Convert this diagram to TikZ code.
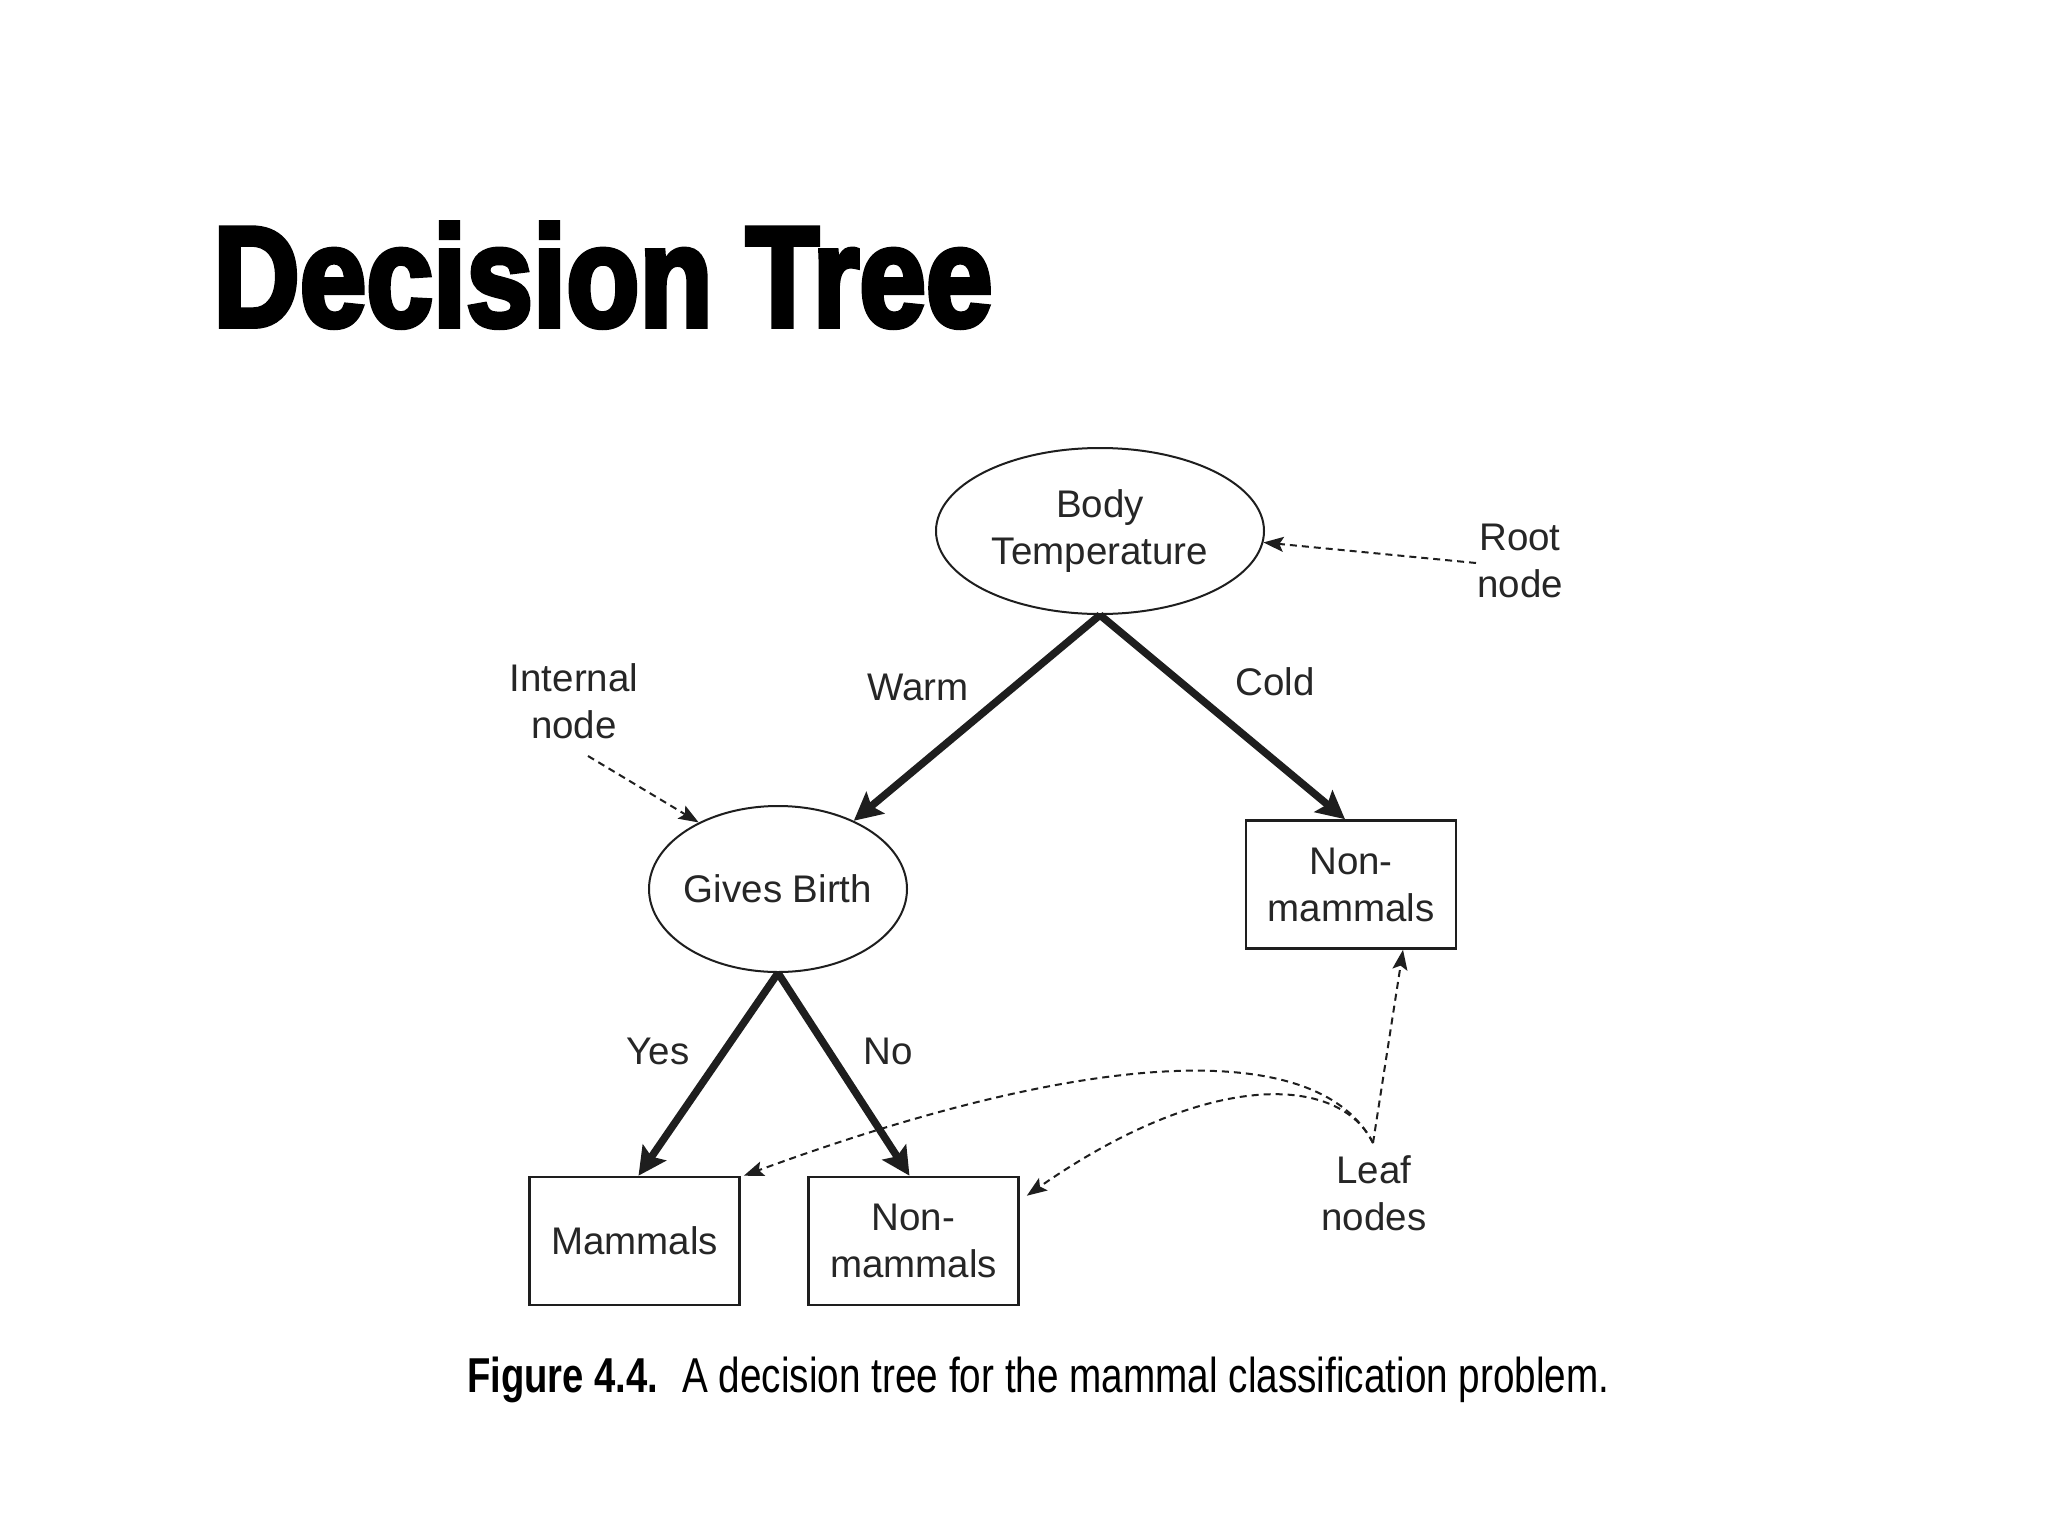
\documentclass[tikz,border=0pt]{standalone}
\usepackage{fontspec}
\setmainfont{Liberation Sans}
\newfontfamily\capfont[FakeStretch=0.79]{Liberation Sans}
\newfontfamily\capbfont[FakeStretch=0.78]{Liberation Sans Bold}
\newfontfamily\titlefont[FakeBold=4]{Liberation Sans Bold}
\usetikzlibrary{shapes.geometric,arrows.meta}
\definecolor{ink}{HTML}{1E1E1E}
\definecolor{txt}{HTML}{262626}
\tikzset{
  lbl/.style={text=txt,font=\fontsize{38.5}{47}\selectfont,align=center,inner sep=0pt},
  ellnode/.style={draw=ink,line width=2pt,ellipse,inner sep=0pt,text=txt,
    font=\fontsize{38.5}{47}\selectfont,align=center},
  leafbox/.style={draw=ink,line width=2.6pt,rectangle,inner sep=0pt,text=txt,
    font=\fontsize{38.5}{47}\selectfont,align=center,minimum width=210pt,minimum height=128pt},
  branch/.style={draw=ink,line width=7.5pt,-{Stealth[length=28pt,width=28pt,inset=5pt]}},
  pointer/.style={draw=ink,line width=2pt,dash pattern=on 7pt off 5pt,
    -{Stealth[length=20pt,width=15pt,inset=4pt]}}
}
\begin{document}
\begin{tikzpicture}[x=1pt,y=-1pt]
\useasboundingbox[fill=white] (0,0) rectangle (2048,1536);
% title
\node[anchor=base west,inner sep=0pt] (title) at (213,326)
  {\resizebox{779pt}{103pt}{\titlefont Decision Tree}};
% tree nodes
\node[ellnode,minimum width=328pt,minimum height=166pt] (root) at (1100,531)
  {Body\\Temperature};
\node[ellnode,minimum width=258pt,minimum height=166pt] (gb) at (778,889)
  {\makebox[0pt]{Gives Birth}};
\node[leafbox] (rbox) at (1351,884.5) {Non-\\mammals};
\node[leafbox] (mam) at (634.5,1241) {Mammals};
\node[leafbox] (nm) at (913.5,1241) {Non-\\mammals};
% labels
\node[lbl] (rootlbl) at (1520,561) {Root\\node};
\node[lbl] (intlbl) at (574,701) {Internal\\node};
\node[lbl] (leaflbl) at (1374,1193) {Leaf\\nodes};
\node[lbl,anchor=base] (warm) at (918,700) {Warm};
\node[lbl,anchor=base] (cold) at (1275,695) {Cold};
\node[lbl,anchor=base] (yes) at (658,1064) {Yes};
\node[lbl,anchor=base] (no) at (888,1064) {No};
% branches
\draw[branch] (root.south) -- (gb.42);
\draw[branch] (root.south) -- ([xshift=-6pt]rbox.north);
\draw[branch] (gb.south) -- ([xshift=4pt]mam.north);
\draw[branch] (gb.south) -- ([xshift=-4pt]nm.north);
% pointers
\coordinate (rtail) at (1476,563);
\coordinate (itail) at (588,756);
\coordinate (lf) at (1373,1143);
\draw[pointer] (rtail) -- (root.-4);
\draw[pointer] (itail) -- (gb.140);
\draw[pointer] (lf) -- ([xshift=52pt]rbox.south);
\draw[pointer] (lf) .. controls (1320,1040) and (1100,1045) .. ([xshift=3pt]mam.north east);
\draw[pointer] (lf) .. controls (1340,1075) and (1210,1068) .. ([xshift=7pt,yshift=-20pt]nm.north east);
% caption
\node[anchor=base west,inner sep=0pt,text=black] (cap) at (467,1392)
  {{\capbfont\fontsize{49}{58}\selectfont Figure 4.4.}\hspace{24pt}{\capfont\fontsize{49}{58}\selectfont A decision tree for the mammal classification problem.}};
\end{tikzpicture}
\end{document}
